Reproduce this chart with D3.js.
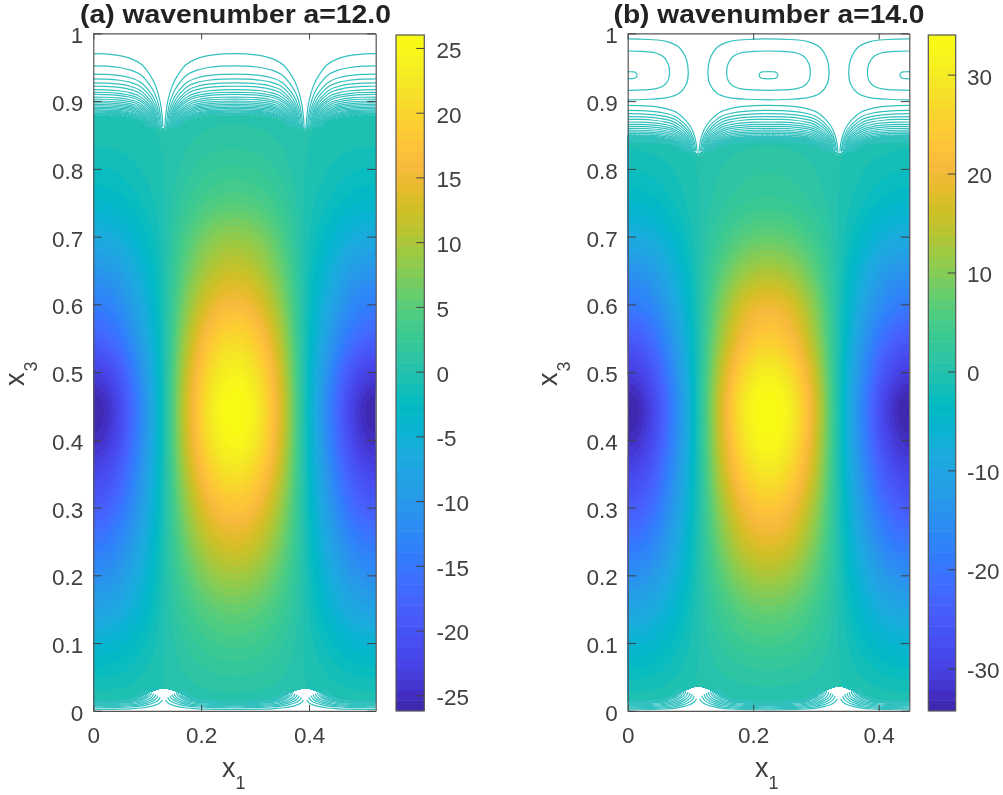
<!DOCTYPE html>
<html><head><meta charset="utf-8">
<script src="https://cdn.jsdelivr.net/npm/d3@7/dist/d3.min.js"></script>
<style>
html,body{margin:0;padding:0;background:#fff;overflow:hidden}
svg{display:block;filter:blur(0.4px)}
text{font-family:"Liberation Sans",Arial,sans-serif}
</style></head><body>
<svg id="fig" width="1003" height="795"></svg>
<script>
// ---------- data ----------
const titles = ["(a) wavenumber a=12.0", "(b) wavenumber a=14.0"];
const periods = [0.5236, 0.4488];
const xTicks = [0, 0.2, 0.4];
const yTicks = [0, 0.1, 0.2, 0.3, 0.4, 0.5, 0.6, 0.7, 0.8, 0.9, 1];
const cbTicksA = [-25, -20, -15, -10, -5, 0, 5, 10, 15, 20, 25];
const cbTicksB = [-30, -20, -10, 0, 10, 20, 30];
const cbRangeA = [-26.2, 26.0];
const cbRangeB = [-34.3, 34.0];
// rows: x3 = 0, .05 ... 1 ; columns: x1 = 0, P/12 ... P/2 (field mirrors about P/2)
const fieldA = [
[0,0,0,0,0,0,0],
[-1.8,-1.6,-.9,-.1,.7,1.3,1.5],
[-4.5,-3.9,-2.2,-.2,1.7,3.0,3.5],
[-8,-7,-4,-.3,3,5.2,6],
[-11.5,-10,-5.7,-.4,4.7,8.3,9.5],
[-15,-13,-7.5,-.5,6.7,11.7,13.5],
[-18.7,-16.3,-9.3,-.6,8.7,15.2,17.5],
[-22,-19.1,-11,-.7,10.8,18.9,21.7],
[-25,-21.8,-12.5,-.8,12.5,21.8,25],
[-26,-22.6,-13,-.8,13,22.6,26],
[-23,-20,-11.5,-.7,12,20.9,24],
[-18,-15.7,-9,-.6,10.2,17.8,20.5],
[-14,-12.2,-7,-.5,8,13.9,16],
[-10.3,-9,-5.1,-.4,6,10.4,12],
[-6.5,-5.7,-3.2,-.3,4.2,7.4,8.5],
[-3.6,-3.1,-1.8,-.2,2.4,4.2,4.8],
[-1.8,-1.6,-.9,-.1,1.2,2.2,2.5],
[-.6,-.5,-.3,0,.5,.9,1],
[-.1,-.1,0,0,.1,.2,.3],
[0,0,0,0,0,0,0],
[0,0,0,0,0,0,0]];
const fieldB = [
[0,0,0,0,0,0,0],
[-2.5,-2.2,-1.2,-.1,.7,1.3,1.5],
[-6,-5.2,-3,-.2,2.2,3.9,4.5],
[-10,-8.7,-5,-.3,4,7,8],
[-15,-13,-7.5,-.4,6.5,11.3,13],
[-20,-17.4,-10,-.5,9.2,16.1,18.5],
[-24.7,-21.5,-12.3,-.6,11.7,20.4,23.5],
[-29,-25.2,-14.5,-.7,14.5,25.2,29],
[-32.8,-28.5,-16.4,-.8,16.5,28.7,33],
[-34.3,-29.8,-17.1,-.8,17.2,30,34.0],
[-30.5,-26.5,-15.2,-.7,15.2,26.5,30.5],
[-25,-21.7,-12.5,-.6,12.2,21.3,24.5],
[-19,-16.5,-9.5,-.5,9.7,17,19.5],
[-14,-12.2,-7,-.4,6.5,11.3,13],
[-8.5,-7.4,-4.2,-.3,3.7,6.5,7.5],
[-4.5,-3.9,-2.2,-.2,1.7,3,3.5],
[-2.2,-1.9,-1.1,-.1,.9,1.6,1.8],
[-.7,-.6,-.3,0,.3,.5,.6],
[-.1,-.1,0,0,.1,.1,.2],
[0,0,0,0,0,0,0],
[0,0,0,0,0,0,0]];
// edges of the solid-looking area, at x1 = 0, P/24 ... P/2
const fillTopA = [.882,.882,.881,.879,.875,.868,.860,.868,.875,.879,.881,.882,.882];
const fillTopB = [.850,.849,.848,.845,.840,.832,.823,.832,.840,.845,.847,.848,.848];
const fillBotA = [.012,.012,.012,.012,.021,.029,.033,.029,.021,.012,.012,.012,.012];
const fillBotB = [.013,.013,.013,.013,.022,.031,.036,.031,.022,.013,.013,.013,.013];
// open contour lines near the top: height at lobe centre and reach towards the cusp
const topLinesA = [.970,.952,.940,.933,.927,.922,.917,.913,.910,.906,.903,.900,.8975,.895,.893,.891,.889,.887,.8855,.884,.8825];
const topReachA = [.985,.965,.95,.935,.92,.91,.90,.89,.88,.87,.86,.85,.84,.83,.82,.81,.80,.79,.78,.77,.76];
const topLinesB = [.8938,.8864,.8815,.8771,.8732,.8692,.8658,.8628,.8599,.8572,.8547,.8524,.8501,.8481,.8462,.8444,.8428,.8413,.8398];
const topReachB = [.985,.965,.95,.935,.92,.91,.90,.89,.88,.87,.86,.85,.84,.83,.82,.81,.80,.79,.78];
const topFloor = [.862, .826];
// closed cells in panel (b): top, bottom, middle height, half width in x1
const cellTopB = [.992,.974,.9435];
const cellBotB = [.902,.916,.933];
const cellMidB = [.941,.9415,.9385];
const cellHalfB = [.0965,.0667,.0148];
// open contour lines near the bottom: height at lobe centre, height at the cusp, reach
const botLinesA = [.002,.0045,.006,.0075,.009,.0105,.0115,.012,.0125,.013,.0135];
const botPeakA = [.016,.020,.0225,.024,.0255,.027,.028,.029,.030,.031,.032];
const botReachA = [.975,.945,.915,.885,.855,.825,.80,.775,.75,.725,.70];
const botLinesB = [.0015,.003,.0045,.006,.0075,.009,.0105,.012,.0125,.013,.0135];
const botPeakB = [.018,.022,.0245,.026,.0275,.029,.030,.031,.032,.033,.034];
const botReachB = [.975,.945,.915,.885,.855,.825,.80,.775,.75,.725,.70];
// shape of one half lobe
const lobeU = [0,.2,.4,.55,.7,.82,.9,.96,.99,1];
const lobeV = [1,.995,.97,.93,.85,.7,.55,.35,.15,0];
const cellU = [0,.35,.65,.85,.97,1,.97,.85,.65,.35,0,-.35,-.65,-.85,-.97,-1,-.97,-.85,-.65,-.35];
const cellV = [1,.98,.92,.75,.4,0,-.4,-.75,-.92,-.98,-1,-.98,-.92,-.75,-.4,0,.4,.75,.92,.98];
// parula colour map, anchors
const parulaAnchors = [[.2422,.1504,.6603],[.2647,.1978,.7952],[.2783,.2559,.8991],[.2813,.3006,.9414],[.2795,.3447,.9717],[.2699,.3892,.9906],[.2440,.4358,.9988],[.1963,.4847,.9892],[.1786,.5289,.9682],[.1687,.5703,.9359],[.1460,.6091,.9079],[.1248,.6459,.8883],[.0952,.6798,.8598],[.0297,.7082,.8163],[.0067,.7312,.7660],[.0964,.7500,.7120],[.1717,.7670,.6554],[.2161,.7843,.5923],[.2906,.7973,.5188],[.3909,.8029,.4354],[.5044,.7993,.3480],[.6174,.7876,.2612],[.7242,.7698,.1910],[.8203,.7498,.1535],[.9035,.7330,.1774],[.9728,.7298,.2394],[.9970,.7659,.2199],[.9892,.8136,.1885],[.9676,.8639,.1643],[.9597,.9135,.1423],[.9691,.9606,.1064],[.9769,.9839,.0805]];

// ---------- layout ----------
const layouts = [
 {left:93.3,right:375.7,cbL:396,cbR:424.3,cbLabel:436.5,yLab:24,xLab:222,titleX:235.5},
 {left:627.7,right:909.3,cbL:928.3,cbR:955.7,cbLabel:967,yLab:557,xLab:755,titleX:769}
];
const plotTop = 33.4, plotBot = 710.8, cbTop = 35;
const lineColor = "#33c1bf", inkColor = "#404040", boxColor = "#555555";
const fontTick = 22.5;

const parula = d3.scaleLinear()
  .domain(parulaAnchors.map((_, i) => i / (parulaAnchors.length - 1)))
  .range(parulaAnchors.map(c => d3.rgb(c[0] * 255, c[1] * 255, c[2] * 255)))
  .interpolate(d3.interpolateRgb)
  .clamp(true);

const svg = d3.select("#fig");
const defs = svg.append("defs");

function catmull(p0, p1, p2, p3, t) {
  return 0.5 * (2 * p1 + (p2 - p0) * t + (2 * p0 - 5 * p1 + 4 * p2 - p3) * t * t + (3 * p1 - p0 - 3 * p2 + p3) * t * t * t);
}
// surface lookup over the table, used only to rasterise the table for d3.contours
function sampler(table) {
  const nc = table[0].length - 1, nr = table.length - 1;
  const col = i => { i = ((i % (2 * nc)) + 2 * nc) % (2 * nc); return i <= nc ? i : 2 * nc - i; };
  const row = j => Math.max(0, Math.min(nr, j));
  return (fx, fy) => {
    const gx = fx * 2 * nc, gy = fy * nr;
    const ix = Math.floor(gx), iy = Math.min(nr - 1, Math.floor(gy));
    const tx = gx - ix, ty = gy - iy, r = [];
    for (let j = -1; j <= 2; j++) {
      const v = table[row(iy + j)];
      r.push(catmull(v[col(ix - 1)], v[col(ix)], v[col(ix + 1)], v[col(ix + 2)], tx));
    }
    return catmull(r[0], r[1], r[2], r[3], ty);
  };
}
const mirror = a => a.concat(a.slice(0, -1).reverse());

function drawPanel(idx, table, cbRange, cbTicks, fTop, fBot, tLines, tReach, bLines, bPeak, bReach) {
  const L = layouts[idx], P = periods[idx];
  const x = d3.scaleLinear().domain([0, P]).range([L.left, L.right]);
  const y = d3.scaleLinear().domain([0, 1]).range([plotBot, plotTop]);
  const color = v => parula((v - cbRange[0]) / (cbRange[1] - cbRange[0]));
  const g = svg.append("g");

  defs.append("clipPath").attr("id", "plot" + idx).append("rect")
    .attr("x", L.left).attr("y", plotTop).attr("width", L.right - L.left).attr("height", plotBot - plotTop);
  const top = mirror(fTop), bot = mirror(fBot);
  const edge = top.map((t, i) => ({x1: i / 24 * P, t, b: bot[i]}));
  defs.append("clipPath").attr("id", "fill" + idx).append("path")
    .attr("d", d3.area().x(d => x(d.x1)).y0(d => y(d.b)).y1(d => y(d.t)).curve(d3.curveCatmullRom)(edge));

  // filled field via d3.contours
  const nx = 282, ny = 340, look = sampler(table), grid = new Float64Array(nx * ny);
  for (let j = 0; j < ny; j++) for (let i = 0; i < nx; i++)
    grid[j * nx + i] = look((i + .5) / nx, (j + .5) / ny);
  const nb = 64, step = (cbRange[1] - cbRange[0]) / nb;
  const thresholds = d3.range(nb).map(k => cbRange[0] + k * step);
  const contours = d3.contours().size([nx, ny]).thresholds(thresholds)(Array.from(grid));
  const proj = d3.geoTransform({point(px, py) {
    this.stream.point(x(px / nx * P), y(py / ny));
  }});
  const path = d3.geoPath(proj);
  const fillG = g.append("g").attr("clip-path", `url(#fill${idx})`);
  // anything below the lowest level keeps the lowest colour
  fillG.append("rect").attr("x", L.left).attr("y", plotTop).attr("width", L.right - L.left)
    .attr("height", plotBot - plotTop).attr("fill", color(cbRange[0]));
  fillG.selectAll("path").data(contours).join("path")
    .attr("d", path).attr("fill", d => color(d.value + step / 2));

  // contour lines
  const lineG = g.append("g").attr("clip-path", `url(#plot${idx})`).attr("fill", "none")
    .attr("stroke", lineColor).attr("stroke-width", 1.2);
  const centres = [0, P / 2, P];
  const lineGen = d3.line().x(d => x(d[0])).y(d => y(d[1])).curve(d3.curveCatmullRom.alpha(.5));
  const half = P / 4;
  // broken edge of the solid area, where the lines merge into it
  lineG.append("path").attr("stroke-width", 5).attr("stroke-dasharray", "1.2 1.7 .8 2.2 1.7 1.1 .6 1.9")
    .attr("stroke", "#4cc9c4")
    .attr("d", d3.line().x(d => x(d.x1)).y(d => y(d.t)).curve(d3.curveCatmullRom)(edge));
  centres.forEach(c => {
    tLines.forEach((h, i) => {
      const floor = topFloor[idx], w = tReach[i] * half;
      const pts = lobeU.map((u, j) => [u, floor + (h - floor) * lobeV[j]]);
      const line = pts.slice().reverse().map(p => [c - p[0] * w, p[1]]).concat(pts.slice(1).map(p => [c + p[0] * w, p[1]]));
      lineG.append("path").attr("d", lineGen(line));
    });
    bLines.forEach((h, i) => {
      const w = bReach[i] * half, pk = bPeak[i];
      const pts = lobeU.map((u, j) => [u, pk + (h - pk) * lobeV[j]]);
      const line = pts.slice().reverse().map(p => [c - p[0] * w, p[1]]).concat(pts.slice(1).map(p => [c + p[0] * w, p[1]]));
      lineG.append("path").attr("d", lineGen(line));
    });
    if (idx === 1) {
      const closed = d3.line().x(d => x(d[0])).y(d => y(d[1])).curve(d3.curveCatmullRomClosed.alpha(.5));
      cellTopB.forEach((t, i) => {
        const pts = cellU.map((u, j) => {
          const v = cellV[j], m = cellMidB[i];
          return [c + u * cellHalfB[i], v >= 0 ? m + v * (t - m) : m + v * (m - cellBotB[i])];
        });
        lineG.append("path").attr("d", closed(pts));
      });
    }
  });

  // axes
  const tick = 8.5;
  const style = s => {
    s.selectAll("path").attr("stroke", boxColor).attr("stroke-width", 1.2);
    s.selectAll("line").attr("stroke", inkColor).attr("stroke-width", 1);
    s.selectAll("text").attr("fill", inkColor).attr("font-size", fontTick).attr("font-family", '"Liberation Sans",Arial,sans-serif');
  };
  const plain = d => String(d);
  g.append("g").attr("transform", `translate(0,${plotBot})`)
    .call(d3.axisBottom(x).tickValues(xTicks).tickFormat(plain).tickSize(-6).tickSizeOuter(0).tickPadding(16)).call(style);
  g.append("g").attr("transform", `translate(0,${plotTop})`)
    .call(d3.axisTop(x).tickValues(xTicks).tickFormat("").tickSize(-6).tickSizeOuter(0)).call(style);
  g.append("g").attr("transform", `translate(${L.left},0)`)
    .call(d3.axisLeft(y).tickValues(yTicks).tickFormat(plain).tickSize(-tick).tickSizeOuter(0).tickPadding(10)).call(style)
    .call(s => s.selectAll("text").attr("dy", "0.42em"));
  g.append("g").attr("transform", `translate(${L.right},0)`)
    .call(d3.axisRight(y).tickValues(yTicks).tickFormat("").tickSize(-tick).tickSizeOuter(0)).call(style);

  // title and labels
  g.append("text").attr("x", L.titleX).attr("y", 23).attr("text-anchor", "middle")
    .attr("font-weight", "bold").attr("font-size", 26).attr("fill", "#222")
    .attr("textLength", 311).attr("lengthAdjust", "spacingAndGlyphs").text(titles[idx]);
  const xl = g.append("text").attr("x", L.xLab).attr("y", 777).attr("font-size", 27).attr("fill", inkColor).text("x");
  xl.append("tspan").attr("dy", 12).attr("font-size", 18).text("1");
  const yl = g.append("text").attr("transform", `translate(${L.yLab},386) rotate(-90)`).attr("font-size", 27).attr("fill", inkColor).text("x");
  yl.append("tspan").attr("dy", 13).attr("dx", 1).attr("font-size", 18).text("3");

  // colour bar
  const cb = d3.scaleLinear().domain(cbRange).range([plotBot, cbTop]);
  const cbG = g.append("g");
  const cbBands = d3.range(64).map(k => cbRange[0] + (cbRange[1] - cbRange[0]) * k / 64);
  const cbStep = (cbRange[1] - cbRange[0]) / 64;
  cbG.selectAll("rect").data(cbBands).join("rect")
    .attr("x", L.cbL).attr("width", L.cbR - L.cbL)
    .attr("y", d => cb(d + cbStep)).attr("height", d => cb(d) - cb(d + cbStep) + .5)
    .attr("fill", d => color(d + cbStep / 2));
  cbG.append("rect").attr("x", L.cbL).attr("y", cbTop).attr("width", L.cbR - L.cbL).attr("height", plotBot - cbTop)
    .attr("fill", "none").attr("stroke", boxColor).attr("stroke-width", 1.2);
  g.append("g").attr("transform", `translate(${L.cbR},0)`)
    .call(d3.axisRight(cb).tickValues(cbTicks).tickFormat(plain).tickSize(-8).tickSizeOuter(0).tickPadding(L.cbLabel - L.cbR)).call(style)
    .call(s => s.select("path").remove())
    .call(s => s.selectAll("text").attr("dy", "0.42em"));
}

drawPanel(0, fieldA, cbRangeA, cbTicksA, fillTopA, fillBotA, topLinesA, topReachA, botLinesA, botPeakA, botReachA);
drawPanel(1, fieldB, cbRangeB, cbTicksB, fillTopB, fillBotB, topLinesB, topReachB, botLinesB, botPeakB, botReachB);
</script>
</body></html>
